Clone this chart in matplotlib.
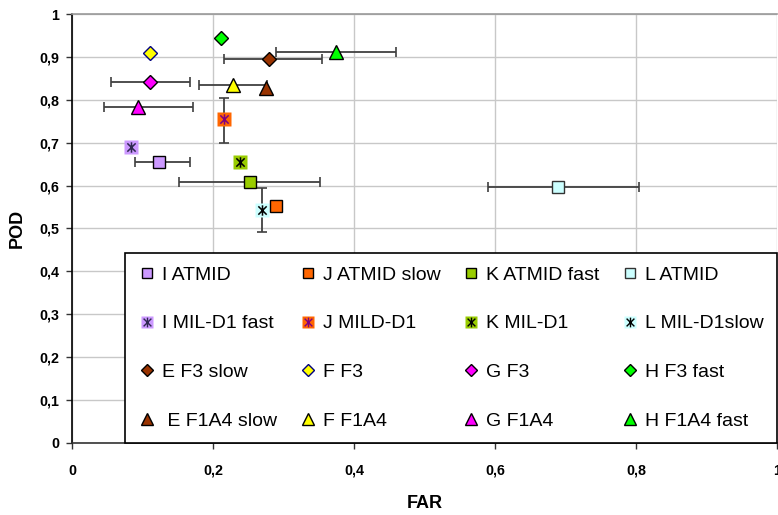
import matplotlib
matplotlib.use("Agg")
import matplotlib.pyplot as plt
from matplotlib.path import Path
from matplotlib.lines import Line2D
from matplotlib.legend_handler import HandlerTuple
from matplotlib.ticker import FuncFormatter, MultipleLocator

# ---- data ----
labels = ['I ATMID', 'J ATMID slow', 'K ATMID fast', 'L ATMID',
          'I MIL-D1 fast', 'J MILD-D1', 'K MIL-D1', 'L MIL-D1slow',
          'E F3 slow', 'F F3', 'G F3', 'H F3 fast',
          ' E F1A4 slow', 'F F1A4', 'G F1A4', 'H F1A4 fast']
far = [0.123, 0.289, 0.252, 0.690,
       0.083, 0.216, 0.239, 0.270,
       0.279, 0.111, 0.111, 0.212,
       0.275, 0.228, 0.0935, 0.374]
pod = [0.655, 0.552, 0.609, 0.596,
       0.691, 0.755, 0.654, 0.544,
       0.896, 0.910, 0.842, 0.943,
       0.828, 0.834, 0.784, 0.911]
far_low = [0.089, None, 0.152, 0.590,
           None, None, None, None,
           0.216, None, 0.055, None,
           None, 0.180, 0.045, 0.289]
far_high = [0.167, None, 0.352, 0.804,
            None, None, None, None,
            0.354, None, 0.167, None,
            None, 0.276, 0.172, 0.460]
pod_low = [None, None, None, None,
           None, 0.699, None, 0.491,
           None, None, None, None,
           None, None, None, None]
pod_high = [None, None, None, None,
            None, 0.805, None, 0.595,
            None, None, None, None,
            None, None, None, None]

# ---- styles ----
kinds = ['s', 's', 's', 's', 'ast', 'ast', 'ast', 'ast',
         'D', 'D', 'D', 'D', '^', '^', '^', '^']
faces = ['#CC99FF', '#FF6600', '#99CC00', '#CCFFFF',
         '#CC99FF', '#FF6600', '#99CC00', '#CCFFFF',
         '#993300', '#FFFF00', '#FF00FF', '#00FF00',
         '#993300', '#FFFF00', '#FF00FF', '#00FF00']
edges = ['#000000', '#000000', '#000000', '#333333',
         '#2E2850', '#800080', '#000000', '#000000',
         '#000000', '#000080', '#000000', '#000000',
         '#000000', '#000000', '#000000', '#000000']

plt.rcParams['font.family'] = ['Liberation Sans', 'DejaVu Sans']

ast_path = Path([(-1, -1), (1, 1), (-1, 1), (1, -1), (0, -1.25), (0, 1.25)],
                [Path.MOVETO, Path.LINETO, Path.MOVETO, Path.LINETO,
                 Path.MOVETO, Path.LINETO])

fig = plt.figure(figsize=(7.78, 5.15), dpi=100)
ax = fig.add_axes([72 / 778, 72 / 515, 705 / 778, 429 / 515])
ax.set_xlim(0, 1)
ax.set_ylim(0, 1)
ax.xaxis.set_major_locator(MultipleLocator(0.2))
ax.yaxis.set_major_locator(MultipleLocator(0.1))
fmt = FuncFormatter(lambda v, p: ('%g' % round(v, 2)).replace('.', ','))
ax.xaxis.set_major_formatter(fmt)
ax.yaxis.set_major_formatter(fmt)
ax.grid(True, color='#C8C8C8', lw=1.0, zorder=0)
ax.set_axisbelow(True)
ax.spines['right'].set_visible(False)
ax.spines['top'].set_color('#999999')
ax.spines['top'].set_linewidth(1.2)
ax.spines['left'].set_color('#000000')
ax.spines['left'].set_linewidth(1.2)
ax.spines['bottom'].set_color('#333333')
ax.spines['bottom'].set_linewidth(1.2)
ax.tick_params(direction='out', length=4, width=1, color='#333333')
ax.tick_params(axis='x', pad=11)
ax.tick_params(axis='y', pad=5)
for t in ax.get_xticklabels() + ax.get_yticklabels():
    t.set_fontweight('bold')
    t.set_fontsize(10.3)

# error bars
for i in range(len(labels)):
    xe = None
    ye = None
    if far_low[i] is not None:
        xe = [[far[i] - far_low[i]], [far_high[i] - far[i]]]
    if pod_low[i] is not None:
        ye = [[pod[i] - pod_low[i]], [pod_high[i] - pod[i]]]
    if xe is not None or ye is not None:
        ax.errorbar([far[i]], [pod[i]], xerr=xe, yerr=ye, fmt='none',
                    ecolor='#404040', elinewidth=1.3, capsize=3.5,
                    capthick=1.2, zorder=2)

handles = []
for i in range(len(labels)):
    k = kinds[i]
    if k == 'ast':
        ax.plot([far[i]], [pod[i]], ls='none', marker='s', ms=9.5,
                mfc=faces[i], mec='none', zorder=3)
        ax.plot([far[i]], [pod[i]], ls='none', marker=ast_path, ms=7.5,
                mfc='none', mec=edges[i], mew=1.1, zorder=4)
        h1 = Line2D([], [], ls='none', marker='s', ms=9, mfc=faces[i], mec='none')
        h2 = Line2D([], [], ls='none', marker=ast_path, ms=7, mfc='none',
                    mec=edges[i], mew=1.0)
        handles.append((h1, h2))
    else:
        ms = {'s': 8.5, 'D': 6.8, '^': 10.5}[k]
        lms = {'s': 6.8, 'D': 6.2, '^': 9}[k]
        ax.plot([far[i]], [pod[i]], ls='none', marker=k, ms=ms,
                mfc=faces[i], mec=edges[i], mew=1.0, zorder=4)
        handles.append(Line2D([], [], ls='none', marker=k, ms=lms,
                              mfc=faces[i], mec=edges[i], mew=1.0))

order = [r * 4 + c for c in range(4) for r in range(4)]
leg = ax.legend([handles[j] for j in order], [labels[j] for j in order],
                handler_map={tuple: HandlerTuple(ndivide=1, pad=0)},
                ncol=4, loc='lower left', bbox_to_anchor=(0.075, 0.0, 0.925, 0.455),
                mode='expand', borderaxespad=0, fancybox=False, framealpha=1,
                edgecolor='#000000', fontsize=14, handlelength=0.9,
                handletextpad=0.32, labelspacing=1.6, borderpad=0.68,
                columnspacing=1.0)
leg.get_frame().set_linewidth(1.2)
leg.set_zorder(6)

ax.set_xlabel('FAR', fontsize=13, fontweight='bold', labelpad=12)
ax.set_ylabel('POD', fontsize=13, fontweight='bold', labelpad=10)

fig.savefig('out.png', dpi=100)
